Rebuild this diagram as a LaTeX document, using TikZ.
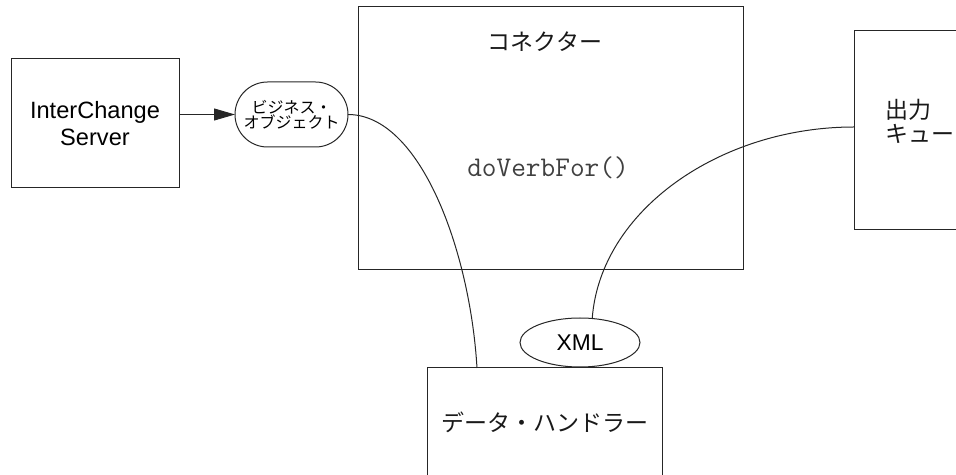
\documentclass[tikz,border=0pt]{standalone}
\usepackage{fontspec}
\setmainfont{Liberation Sans}
\newfontfamily\jpfont{Noto Sans CJK JP}
\usetikzlibrary{positioning,calc,shapes.geometric,shapes.misc,arrows.meta}

\tikzset{%
	>={Triangle[length=21pt,width=12pt]},
	box/.style={draw=black!85,line width=1pt,inner sep=0pt,outer sep=0pt},%
	bizobj/.style={box,rounded rectangle,minimum width=113pt,minimum height=65pt,align=center},%
	wire/.style={black!85,line width=1pt},%
	jp/.style={font=\jpfont\fontsize{23}{23.5}\selectfont,text=black!90}%
}

\begin{document}
\begin{tikzpicture}[x=1pt,y=1pt]
	%% page frame
	\useasboundingbox (0,0) rectangle (956,474);
	
	%% boxes
	\node[box,minimum width=168pt,minimum height=129pt,align=center,
		font=\fontsize{23.6}{27}\selectfont] (ics) at (95,350.5) {InterChange\\Server};
	\node[bizobj,font=\jpfont\fontsize{16}{15}\selectfont] (bo) at (291.5,359.5) {ビジネス・\\オブジェクト};
	\node[box,minimum width=385pt,minimum height=263pt] (conn) at (550.5,335.5) {};
	\node[jp] (conntitle) at (545,432) {コネクター};
	\node[font=\ttfamily\fontsize{28.5}{30}\selectfont,text=black!75] (verb) at (548,306) {doVerbFor()};
	\node[box,minimum width=130pt,minimum height=199pt] (outq) at (919,343.5) {};
	\node[jp,anchor=west,align=left] (outtxt) at (882,352.5) {出力\\キュー};
	\node[box,minimum width=235pt,minimum height=108pt,jp] (dh) at (544.5,52) {データ・ハンドラー};
	\node[box,ellipse,minimum width=120pt,minimum height=49pt,
		font=\fontsize{22.8}{24}\selectfont] (xml) at (580,131.5) {XML};
	
	%% connectors
	\draw[wire,->] (ics.east |- bo.west) -- (bo.west);
	\draw[wire] (bo.east) .. controls +(72,0) and +(-7,118) .. ($(dh.north west)+(50,0)$);
	\draw[wire] ($(outq.west)+(0,3.5)$) .. controls +(-134,0) and +(8,108) .. (xml.63);
	
\end{tikzpicture}
\end{document}
